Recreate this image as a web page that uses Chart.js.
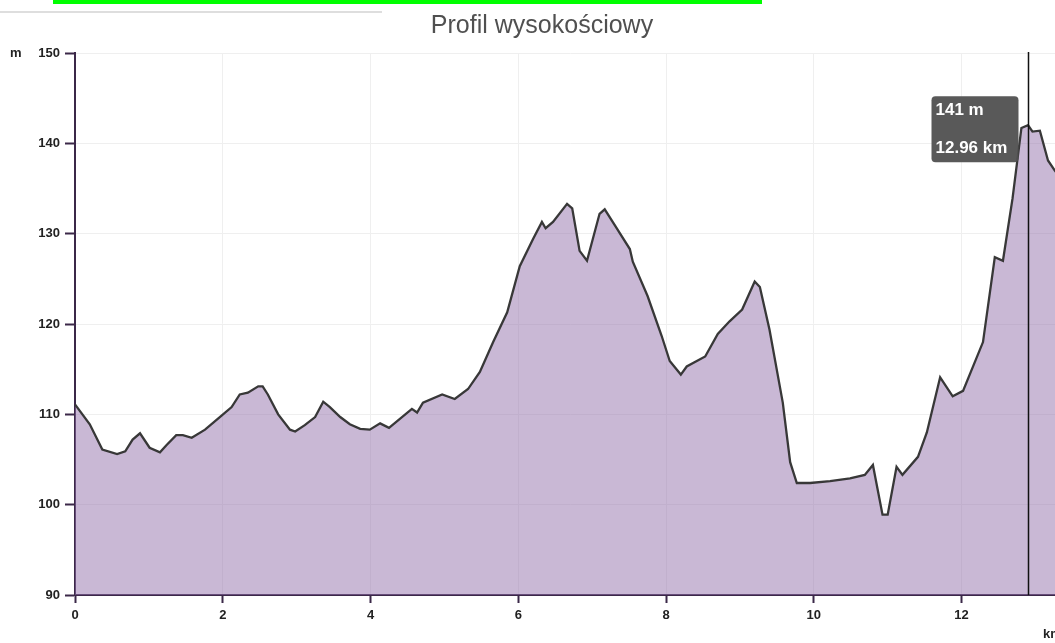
<!DOCTYPE html>
<html>
<head>
<meta charset="utf-8">
<script src="https://cdn.jsdelivr.net/npm/chart.js@4.4.1/dist/chart.umd.min.js"></script>
<style>
	html, body { margin: 0; padding: 0; background: #fff; overflow: hidden; width: 1055px; height: 643px; }
	#wrap { position: relative; width: 1055px; height: 643px; overflow: hidden; }
	#topbar { position: absolute; left: 53px; top: 0; width: 709px; height: 4px; background: #00ff00; }
	#navline { position: absolute; left: 0; top: 11px; width: 382px; height: 2px; background: #dedede; }
	canvas { position: absolute; left: 0; top: 0; }
</style>
</head>
<body>
<div id="wrap">
	<canvas id="profile" width="1090" height="643"></canvas>
	<div id="topbar"></div>
	<div id="navline"></div>
</div>
<script>
const CHART_TITLE = 'Profil wysokościowy';
const Y_UNIT = 'm';
const X_UNIT = 'km';

// distance along the route (km) and elevation (m)
const distanceKm = [
	0.00, 0.20, 0.37, 0.57, 0.68, 0.78, 0.88, 1.01, 1.15, 1.24,
	1.37, 1.46, 1.58, 1.76, 1.96, 2.12, 2.23, 2.34, 2.48, 2.54,
	2.61, 2.75, 2.91, 2.98, 3.11, 3.25, 3.36, 3.45, 3.59, 3.72,
	3.86, 3.99, 4.13, 4.25, 4.56, 4.63, 4.71, 4.97, 5.14, 5.32,
	5.48, 5.66, 5.85, 6.02, 6.20, 6.32, 6.37, 6.47, 6.66, 6.73,
	6.83, 6.93, 7.10, 7.17, 7.31, 7.51, 7.55, 7.75, 7.94, 8.05,
	8.20, 8.28, 8.53, 8.70, 8.86, 9.03, 9.20, 9.27, 9.40, 9.58,
	9.68, 9.77, 9.95, 10.22, 10.49, 10.69, 10.80, 10.93, 11.00, 11.12,
	11.20, 11.41, 11.53, 11.71, 11.88, 12.02, 12.29, 12.45, 12.56, 12.69,
	12.81, 12.90, 12.96, 13.06, 13.17, 13.26, 13.40
];
const elevationM = [
	111.1, 108.9, 106.1, 105.6, 105.9, 107.2, 107.9, 106.3, 105.8, 106.6,
	107.7, 107.7, 107.4, 108.3, 109.7, 110.8, 112.2, 112.4, 113.1, 113.1,
	112.2, 110.0, 108.3, 108.1, 108.8, 109.7, 111.4, 110.8, 109.7, 108.9,
	108.4, 108.3, 109.0, 108.5, 110.6, 110.2, 111.3, 112.2, 111.7, 112.8,
	114.7, 118.0, 121.3, 126.4, 129.4, 131.3, 130.6, 131.3, 133.3, 132.8,
	128.1, 127.0, 132.2, 132.7, 130.9, 128.3, 126.9, 123.1, 118.7, 115.9,
	114.4, 115.3, 116.4, 118.9, 120.3, 121.6, 124.7, 124.1, 119.4, 111.3,
	104.7, 102.4, 102.4, 102.6, 102.9, 103.3, 104.4, 98.9, 98.9, 104.2,
	103.3, 105.3, 108.0, 114.1, 112.0, 112.6, 118.0, 127.4, 127.0, 133.9,
	141.7, 142.0, 141.3, 141.4, 138.1, 137.0, 135.5
];

const yMin = 90;
const yMax = 150;
const yStep = 10;
const xMin = 0;
const xMax = 13.4;
const xStep = 2;

// hover state shown in the picture
const cursorKm = 12.9;
const hoverElevation = 141;
const hoverKm = 12.96;

const AXIS_COLOR = '#3b2848';
const TICK_FONT = { family: "'Liberation Sans', Arial, sans-serif", size: 13, weight: 'bold' };

const points = distanceKm.map((d, i) => ({ x: d, y: elevationM[i] }));

const overlay = {
	id: 'overlay',
	afterDraw(chart) {
		const c = chart.ctx;
		const xs = chart.scales.x;
		const ys = chart.scales.y;
		const area = chart.chartArea;

		c.save();
		// title
		c.fillStyle = '#505050';
		c.font = "25px 'Liberation Sans', Arial, sans-serif";
		c.textAlign = 'center';
		c.textBaseline = 'alphabetic';
		c.fillText(CHART_TITLE, 542, 33);

		// units
		c.fillStyle = '#222';
		c.font = "bold 13px 'Liberation Sans', Arial, sans-serif";
		c.textAlign = 'left';
		c.textBaseline = 'middle';
		c.fillText(Y_UNIT, 10, ys.getPixelForValue(yMax));
		c.fillText(X_UNIT, 1043, 634);

		// cursor line
		const cx = Math.round(xs.getPixelForValue(cursorKm)) + 0.5;
		c.strokeStyle = '#111';
		c.lineWidth = 1.5;
		c.beginPath();
		c.moveTo(cx, area.top - 1);
		c.lineTo(cx, area.bottom);
		c.stroke();

		// hover box
		const right = cx - 10;
		const w = 87;
		const h = 66;
		const left = right - w;
		const top = ys.getPixelForValue(hoverElevation) - 38;
		c.fillStyle = 'rgba(80,80,80,0.95)';
		c.beginPath();
		c.roundRect(left, top, w, h, 4);
		c.fill();
		c.fillStyle = '#fff';
		c.font = "bold 17px 'Liberation Sans', Arial, sans-serif";
		c.textBaseline = 'middle';
		c.fillText(hoverElevation + ' m', left + 4, top + 14);
		c.fillText(hoverKm.toFixed(2) + ' km', left + 4, top + 52);
		c.restore();
	}
};

const ctx = document.getElementById('profile').getContext('2d');
new Chart(ctx, {
	type: 'line',
	data: {
		datasets: [{
			data: points,
			borderColor: '#383838',
			borderWidth: 2.3,
			backgroundColor: 'rgba(147,113,171,0.5)',
			fill: 'start',
			pointRadius: 0,
			tension: 0
		}]
	},
	options: {
		responsive: false,
		animation: false,
		events: [],
		layout: { padding: { top: 53, right: 25, bottom: 0, left: 0 } },
		plugins: {
			legend: { display: false },
			tooltip: { enabled: false },
			title: { display: false }
		},
		scales: {
			x: {
				type: 'linear',
				min: xMin,
				max: xMax,
				afterFit(s) { s.height = 48; },
				border: { color: AXIS_COLOR, width: 2 },
				grid: { color: '#efefef', lineWidth: 1, tickColor: AXIS_COLOR, tickLength: 8, tickWidth: 2 },
				ticks: { stepSize: xStep, includeBounds: false, padding: 5, maxRotation: 0, color: '#222', font: TICK_FONT }
			},
			y: {
				min: yMin,
				max: yMax,
				afterFit(s) { s.width = 75; },
				border: { color: AXIS_COLOR, width: 2 },
				grid: { color: '#efefef', lineWidth: 1, tickColor: AXIS_COLOR, tickLength: 10, tickWidth: 2 },
				ticks: { stepSize: yStep, padding: 5, color: '#222', font: TICK_FONT }
			}
		}
	},
	plugins: [overlay]
});
</script>
</body>
</html>
